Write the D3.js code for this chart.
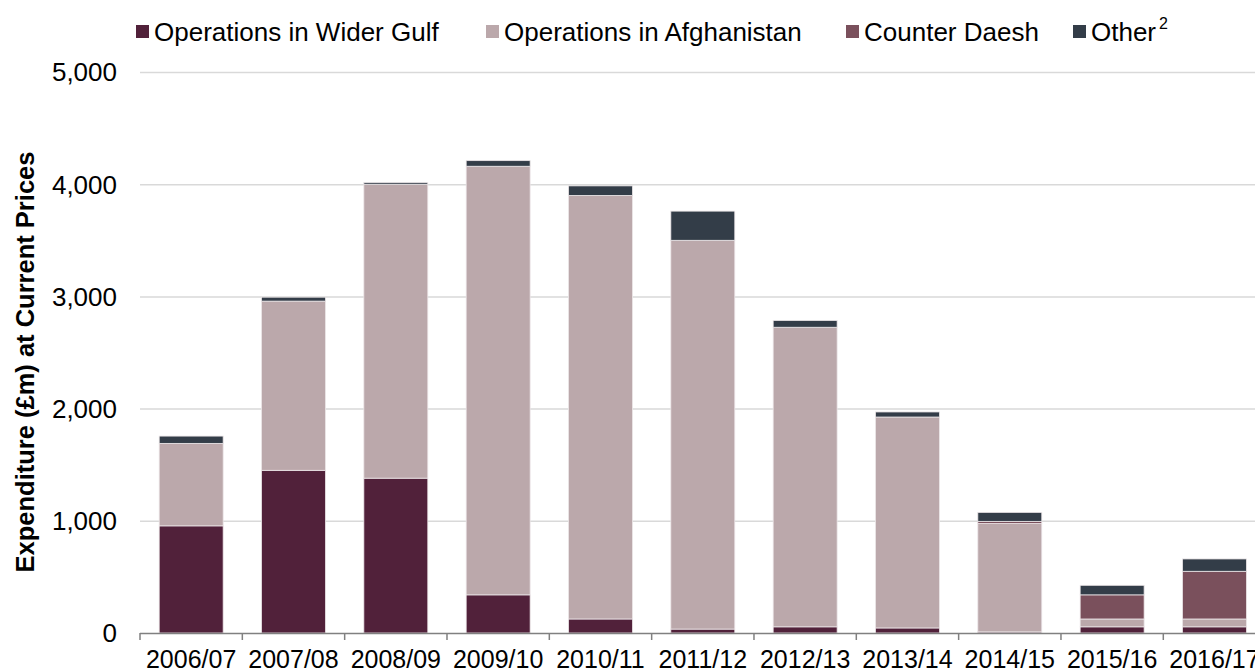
<!DOCTYPE html>
<html>
<head>
<meta charset="utf-8">
<script src="https://cdn.jsdelivr.net/npm/d3@7"></script>
<style>
  body { margin: 0; background: #fff; }
  text { font-family: "Liberation Sans", Arial, sans-serif; fill: #000; }
</style>
</head>
<body>
<svg id="chart" width="1255" height="672"></svg>
<script>
// data (£m)
var years = ["2006/07", "2007/08", "2008/09", "2009/10", "2010/11", "2011/12",
             "2012/13", "2013/14", "2014/15", "2015/16", "2016/17"];
var widerGulf   = [955, 1450, 1380, 340, 125, 35, 55, 45, 10, 55, 55];
var afghanistan = [735, 1508, 2620, 3820, 3775, 3465, 2670, 1880, 965, 70, 70];
var counterDaesh = [0, 0, 0, 0, 0, 0, 0, 0, 20, 215, 425];
var other       = [65, 35, 15, 50, 85, 260, 60, 45, 80, 85, 110];
var seriesNames = ["Operations in Wider Gulf", "Operations in Afghanistan", "Counter Daesh", "Other"];
var seriesColors = ["#51213a", "#bba8ab", "#7a505c", "#333d48"];
var yTicks = [0, 1000, 2000, 3000, 4000, 5000];

var svg = d3.select('#chart');
var padding = {t: 72, l: 140};
var plotH = 633 - padding.t;
var bandW = 102.33;

var rows = years.map(function(y, i) {
    return {year: y, gulf: widerGulf[i], afg: afghanistan[i], daesh: counterDaesh[i], other: other[i]};
});
var keys = ["gulf", "afg", "daesh", "other"];
var stacked = d3.stack().keys(keys)(rows);

var x = d3.scaleBand().domain(years)
    .range([0, bandW * years.length]).paddingInner(0.375).paddingOuter(0.1875);
var y = d3.scaleLinear().domain([0, 5000]).range([plotH, 0]);

var chartG = svg.append('g')
    .attr('transform', 'translate(' + [padding.l, padding.t] + ')');

// gridlines
chartG.append('g').selectAll('line')
    .data(yTicks.slice(1)).enter()
    .append('line')
    .attr('x1', 0).attr('x2', 1200)
    .attr('y1', d => y(d) + 0.5).attr('y2', d => y(d) + 0.5)
    .attr('stroke', '#d9d9d9').attr('stroke-width', 1.5);

// y labels
chartG.append('g').selectAll('text')
    .data(yTicks).enter()
    .append('text')
    .attr('x', -23).attr('y', d => y(d))
    .attr('dy', '0.36em')
    .attr('text-anchor', 'end')
    .style('font-size', '26px')
    .text(d => d3.format(',')(d));

// bars
chartG.selectAll('.layer')
    .data(stacked).enter()
    .append('g')
    .attr('class', 'layer')
    .attr('fill', (d, i) => seriesColors[i])
    .selectAll('rect')
    .data(d => d).enter()
    .append('rect')
    .attr('x', d => x(d.data.year))
    .attr('width', x.bandwidth())
    .attr('y', d => y(d[1]))
    .attr('height', d => y(d[0]) - y(d[1]))
    .attr('stroke', '#ece6e8').attr('stroke-width', 0.8);

// x axis
var xAxisG = chartG.append('g')
    .attr('transform', 'translate(0,' + plotH + ')');
xAxisG.append('line')
    .attr('x1', 0).attr('x2', 1200).attr('y1', 0.5).attr('y2', 0.5)
    .attr('stroke', '#808080').attr('stroke-width', 1.5);
xAxisG.selectAll('.tick')
    .data(years).enter()
    .append('line')
    .attr('x1', (d, i) => i * bandW).attr('x2', (d, i) => i * bandW)
    .attr('y1', 0).attr('y2', 7)
    .attr('stroke', '#808080').attr('stroke-width', 1.5);
xAxisG.selectAll('.xlabel')
    .data(years).enter()
    .append('text')
    .attr('x', d => x(d) + x.bandwidth() / 2)
    .attr('y', 35)
    .attr('text-anchor', 'middle')
    .style('font-size', '25px')
    .text(d => d);

// y axis title
svg.append('text')
    .attr('transform', 'translate(' + [34, 362] + ')rotate(-90)')
    .attr('text-anchor', 'middle')
    .style('font-size', '25.5px').style('font-weight', 'bold')
    .text('Expenditure (£m) at Current Prices');

// legend
var legendX = [136, 486, 846, 1073];
var legend = svg.append('g');
seriesNames.forEach(function(name, i) {
    legend.append('rect')
        .attr('x', legendX[i]).attr('y', 25)
        .attr('width', 13).attr('height', 13)
        .attr('fill', seriesColors[i]);
    var t = legend.append('text')
        .attr('x', legendX[i] + 18).attr('y', 41)
        .style('font-size', '26px')
        .text(name);
    if (name === 'Other') {
        t.append('tspan').attr('dx', 3).attr('dy', -12)
            .style('font-size', '16px').text('2');
    }
});
</script>
</body>
</html>
